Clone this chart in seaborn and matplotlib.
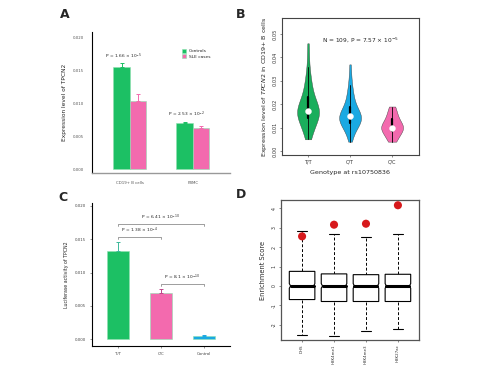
import matplotlib
matplotlib.use('Agg')

import numpy as np
import pandas as pd
import matplotlib.pyplot as plt
from matplotlib.patches import Polygon
import seaborn as sns

sns.set_style("white")
plt.rcParams['font.family'] = ['DejaVu Sans']

GREEN = "#1cc064"
PINK = "#f36aae"
BLUE = "#1aa9e2"

# --------------------------------------------------
# Data
# --------------------------------------------------
# A: expression of TPCN2
a_cells = ["CD19+ B cells", "CD19+ B cells", "PBMC", "PBMC"]
a_group = ["Controls", "SLE cases", "Controls", "SLE cases"]
a_value = [0.0155, 0.0104, 0.0070, 0.0063]
a_err = [0.0006, 0.0011, 0.0002, 0.0003]
a_pvals = ["P = 1.66 × 10$^{-5}$", "P = 2.53 × 10$^{-2}$"]

# B: per-genotype expression samples (N = 109)
b_tt = [0.005, 0.006, 0.007, 0.008, 0.009, 0.010, 0.011, 0.012, 0.012, 0.013,
        0.013, 0.014, 0.014, 0.015, 0.015, 0.015, 0.016, 0.016, 0.016, 0.017,
        0.017, 0.017, 0.017, 0.018, 0.018, 0.018, 0.019, 0.019, 0.020, 0.020,
        0.021, 0.021, 0.022, 0.023, 0.024, 0.025, 0.026, 0.027, 0.028, 0.030,
        0.031, 0.033, 0.036, 0.041, 0.046]
b_ct = [0.004, 0.006, 0.007, 0.008, 0.009, 0.010, 0.010, 0.011, 0.011, 0.012,
        0.012, 0.012, 0.013, 0.013, 0.013, 0.013, 0.014, 0.014, 0.014, 0.014,
        0.014, 0.015, 0.015, 0.015, 0.015, 0.016, 0.016, 0.016, 0.017, 0.017,
        0.018, 0.018, 0.019, 0.019, 0.020, 0.021, 0.022, 0.023, 0.024, 0.025,
        0.026, 0.028, 0.030, 0.033, 0.037]
b_cc = [0.004, 0.005, 0.006, 0.007, 0.008, 0.009, 0.009, 0.010, 0.010, 0.010,
        0.011, 0.011, 0.012, 0.013, 0.014, 0.015, 0.016, 0.018, 0.019]
b_genotypes = ["T/T", "C/T", "C/C"]

# C: luciferase activity
c_labels = ["T/T", "C/C", "Control"]
c_value = [0.0132, 0.0069, 0.0005]
c_err = [0.0014, 0.0006, 0.0001]
c_brackets = [(0, 2, 0.0173, "P = 6.41 × 10$^{-10}$"),
              (0, 1, 0.0153, "P = 1.38 × 10$^{-4}$"),
              (1, 2, 0.0082, "P = 8.1 × 10$^{-10}$")]

# D: enrichment score boxes
d_marks = ["DHS", "H3K4me1", "H3K4me3", "H3K27ac"]
d_q1 = [-0.70, -0.80, -0.80, -0.80]
d_med = [0.0, 0.0, 0.0, 0.0]
d_q3 = [0.75, 0.62, 0.58, 0.60]
d_lo = [-2.50, -2.55, -2.30, -2.20]
d_hi = [2.85, 2.68, 2.52, 2.68]
d_red = [2.55, 3.15, 3.20, 4.15]

# --------------------------------------------------
# Figure
# --------------------------------------------------
W, H = 480, 367
fig = plt.figure(figsize=(W / 100, H / 100), dpi=100)


def px_axes(left, top, right, bottom):
    return fig.add_axes([left / W, 1 - bottom / H, (right - left) / W, (bottom - top) / H])


# ---------------- A ----------------
ax = px_axes(92, 32, 230, 173)
dfa = pd.DataFrame({"cell": a_cells, "group": a_group, "value": a_value})
sns.barplot(data=dfa, x="cell", y="value", hue="group", palette=[GREEN, PINK],
            width=0.52, errorbar=None, ax=ax, saturation=1,
            edgecolor="#8fe0b0", linewidth=0.4)
bars = sorted(ax.patches[:4], key=lambda b: b.get_x())
for p, err, col in zip(bars, a_err, [GREEN, PINK, GREEN, PINK]):
    xc = p.get_x() + p.get_width() / 2
    ax.errorbar(xc, p.get_height(), yerr=[[0], [err]], color=col, capsize=1.5,
                elinewidth=0.7, capthick=0.7)
ax.set_ylim(-0.0006, 0.0209)
ax.set_xlim(-0.6, 1.59)
ax.set_yticks([0.0, 0.005, 0.010, 0.015, 0.020])
ax.set_yticklabels(["0.000", "0.005", "0.010", "0.015", "0.020"])
ax.tick_params(axis="both", labelsize=2.8, length=0, pad=6, colors="#555555")
ax.set_xlabel("")
ax.set_ylabel("Expression level of TPCN2", fontsize=4.2, labelpad=4)
for i, txt in enumerate(a_pvals):
    ax.text(i - 0.1, a_value[2 * i] + a_err[2 * i] + 0.0004, txt, fontsize=3.2,
            ha="center", va="bottom")
for s in ["top", "right"]:
    ax.spines[s].set_visible(False)
ax.spines["left"].set_color("black")
ax.spines["left"].set_linewidth(0.8)
ax.spines["bottom"].set_color("#999999")
ax.spines["bottom"].set_linewidth(1.0)
ax.legend(loc="upper left", bbox_to_anchor=(0.62, 0.91), frameon=False,
          fontsize=3.2, handlelength=1.0, handleheight=1.0, handletextpad=0.6,
          labelspacing=0.2)
fig.text(65 / W, 1 - 15 / H, "A", fontsize=9, fontweight="bold", ha="center", va="center")

# ---------------- B ----------------
ax = px_axes(282, 18, 419, 155)
dfb = pd.DataFrame({
    "genotype": ["T/T"] * len(b_tt) + ["C/T"] * len(b_ct) + ["C/C"] * len(b_cc),
    "expr": b_tt + b_ct + b_cc,
})
sns.violinplot(data=dfb, x="genotype", y="expr", hue="genotype", order=b_genotypes,
               palette=["#1aae5c", BLUE, PINK], cut=0, width=0.52, density_norm="width",
               bw_adjust=1.0, inner="box", linewidth=0.3, saturation=1, legend=False,
               inner_kws=dict(box_width=1.6, whis_width=0.6, color="black",
                              marker="o", markersize=4.2),
               ax=ax)
ax.set_ylim(-0.0017, 0.0568)
ax.set_xlim(-0.62, 2.64)
ax.set_yticks([0.0, 0.01, 0.02, 0.03, 0.04, 0.05])
ax.set_yticklabels(["0.00", "0.01", "0.02", "0.03", "0.04", "0.05"], rotation=90, va="center")
ax.tick_params(axis="both", labelsize=3.6, length=1.5, width=0.4, pad=1.5, colors="#333333",
               left=True, bottom=True)
ax.set_xlabel("Genotype at rs10750836", fontsize=4.6, labelpad=4)
ax.set_ylabel("Expression level of $\\it{TPCN2}$ in CD19+ B cells", fontsize=4.6, labelpad=3)
ax.text(1.25, 0.0475, "N = 109, P = 7.57 × 10$^{-5}$", fontsize=4.2, ha="center", va="center")
for s in ax.spines.values():
    s.set_color("#444444")
    s.set_linewidth(0.8)
fig.text(241 / W, 1 - 15 / H, "B", fontsize=9, fontweight="bold", ha="center", va="center")

# ---------------- C ----------------
ax = px_axes(92, 203, 230, 346)
dfc = pd.DataFrame({"label": c_labels, "value": c_value})
sns.barplot(data=dfc, x="label", y="value", hue="label", palette=[GREEN, PINK, BLUE],
            width=0.51, errorbar=None, saturation=1, legend=False, ax=ax,
            edgecolor="#8fe0b0", linewidth=0.4)
for i, (v, e, col) in enumerate(zip(c_value, c_err, ["#3cb89a", "#c0448a", BLUE])):
    ax.errorbar(i, v, yerr=[[0], [e]], color=col, capsize=1.5, elinewidth=0.7, capthick=0.7)
tick = 0.0003
for x1, x2, y, txt in c_brackets:
    ax.plot([x1, x1, x2, x2], [y - tick, y, y, y - tick], color="#777777", lw=0.5)
    ax.text((x1 + x2) / 2, y + 0.0003, txt, fontsize=3.2, ha="center", va="bottom")
ax.set_ylim(-0.00105, 0.02045)
ax.set_xlim(-0.6, 2.6)
ax.set_yticks([0.0, 0.005, 0.010, 0.015, 0.020])
ax.set_yticklabels(["0.000", "0.005", "0.010", "0.015", "0.020"])
ax.tick_params(axis="both", labelsize=2.8, length=1.2, width=0.4, pad=3, colors="#444444",
               left=True, bottom=True)
ax.set_xlabel("")
ax.set_ylabel("Luciferase activity of TPCN2", fontsize=3.4, labelpad=4)
for s in ["top", "right"]:
    ax.spines[s].set_visible(False)
ax.spines["left"].set_color("black")
ax.spines["bottom"].set_color("black")
ax.spines["left"].set_linewidth(0.8)
ax.spines["bottom"].set_linewidth(0.8)
fig.text(63 / W, 1 - 197 / H, "C", fontsize=9, fontweight="bold", ha="center", va="center")

# ---------------- D ----------------
ax = px_axes(281, 200, 419, 340)
half = 0.4
notch = 0.04
ci = 0.12
cap = 0.15
for i in range(len(d_marks)):
    q1, md, q3 = d_q1[i], d_med[i], d_q3[i]
    verts = [(i - half, q1), (i + half, q1), (i + half, md - ci), (i + half - notch, md),
             (i + half, md + ci), (i + half, q3), (i - half, q3), (i - half, md + ci),
             (i - half + notch, md), (i - half, md - ci)]
    ax.add_patch(Polygon(verts, closed=True, facecolor="white", edgecolor="black", lw=0.8, zorder=2))
    ax.plot([i - half + notch, i + half - notch], [md, md], color="black", lw=2.2, zorder=3)
    ax.plot([i, i], [q3, d_hi[i]], color="black", lw=0.7, ls=(0, (3, 2)), zorder=1)
    ax.plot([i, i], [q1, d_lo[i]], color="black", lw=0.7, ls=(0, (3, 2)), zorder=1)
    ax.plot([i - cap, i + cap], [d_hi[i], d_hi[i]], color="black", lw=0.8)
    ax.plot([i - cap, i + cap], [d_lo[i], d_lo[i]], color="black", lw=0.8)
sns.scatterplot(x=list(range(len(d_marks))), y=d_red, color="#d7191c", s=34,
                edgecolor="none", ax=ax, zorder=4)
ax.set_xlim(-0.66, 3.66)
ax.set_ylim(-2.78, 4.42)
ax.set_xticks(range(len(d_marks)))
ax.set_xticklabels(d_marks, rotation=90)
ax.set_yticks([-2, -1, 0, 1, 2, 3, 4])
ax.set_yticklabels(["-2", "-1", "0", "1", "2", "3", "4"], rotation=90, va="center")
ax.tick_params(axis="y", labelsize=3.4, length=1.5, width=0.4, pad=1.5, colors="#333333", left=True)
ax.tick_params(axis="x", labelsize=2.9, length=1.5, width=0.4, pad=1.5, colors="#333333", bottom=True)
ax.set_ylabel("Enrichment Score", fontsize=4.8, labelpad=4)
for s in ax.spines.values():
    s.set_color("#555555")
    s.set_linewidth(0.9)
fig.text(241 / W, 1 - 195 / H, "D", fontsize=9, fontweight="bold", ha="center", va="center")

fig.savefig("out.png", dpi=100)
plt.close(fig)
